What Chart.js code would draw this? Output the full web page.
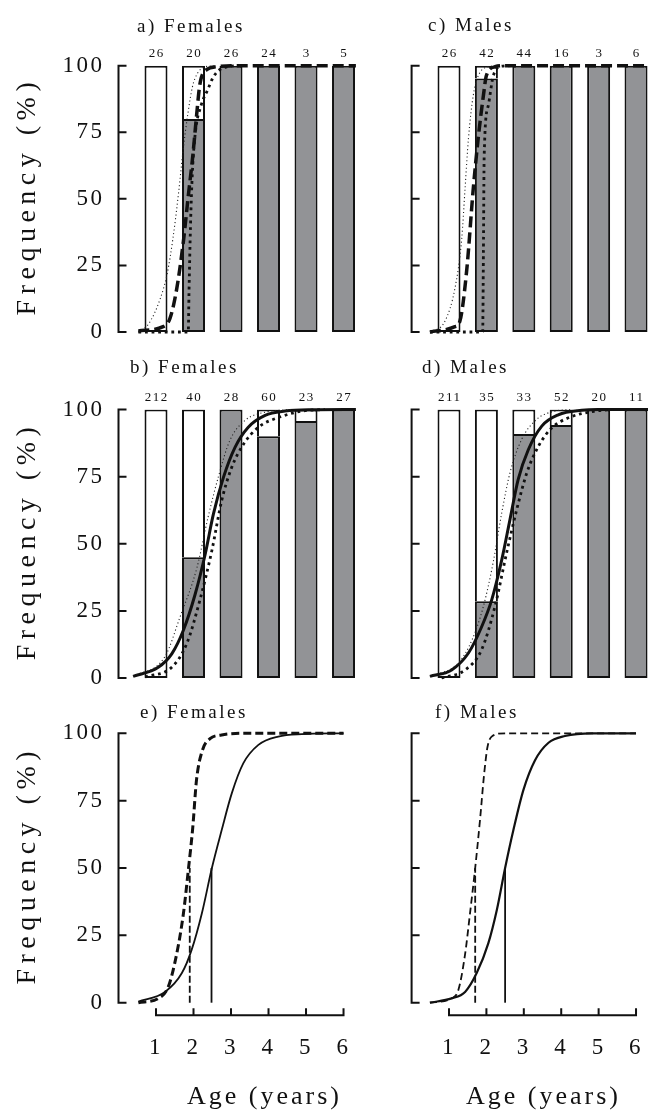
<!DOCTYPE html>
<html>
<head>
<meta charset="utf-8">
<script src="https://cdn.jsdelivr.net/npm/chart.js@4.4.1/dist/chart.umd.min.js"></script>
<style>
  html, body { margin: 0; padding: 0; background: #fff; overflow: hidden; }
  #fig { position: relative; width: 648px; height: 1110px; }
  #fig > div { position: absolute; }
</style>
</head>
<body>
<div id="fig">
  <div style="left:0;top:0;width:370px;height:345px"><canvas id="pa"></canvas></div>
  <div style="left:370px;top:0;width:278px;height:345px"><canvas id="pc"></canvas></div>
  <div style="left:0;top:345px;width:370px;height:345px"><canvas id="pb"></canvas></div>
  <div style="left:370px;top:345px;width:278px;height:345px"><canvas id="pd"></canvas></div>
  <div style="left:0;top:690px;width:370px;height:420px"><canvas id="pe"></canvas></div>
  <div style="left:370px;top:690px;width:278px;height:420px"><canvas id="pf"></canvas></div>
</div>
<script>
// age classes and tick values
const ages = [1, 2, 3, 4, 5, 6];
const yTicks = [0, 25, 50, 75, 100];

// % mature per age class and sample sizes
const matureFemTop = [0, 80, 100, 100, 100, 100];
const nFemTop = [26, 20, 26, 24, 3, 5];
const matureMaleTop = [0, 95.2, 100, 100, 100, 100];
const nMaleTop = [26, 42, 44, 16, 3, 6];
const matureFemMid = [0, 45, 100, 90, 95.7, 100];
const nFemMid = [212, 40, 28, 60, 23, 27];
const matureMaleMid = [0, 28.6, 90.9, 94.2, 100, 100];
const nMaleMid = [211, 35, 33, 52, 20, 11];

// fitted ogives [age, %] with lower / upper bands
const fitFemTop = [[0.53, 0.4], [1.19, 2], [1.37, 5], [1.55, 16], [1.73, 34], [1.86, 51], [1.98, 66], [2.08, 81], [2.17, 93], [2.35, 98.5], [2.62, 99.6], [3.0, 100], [6.33, 100]];
const loFemTop = [[0.53, 0], [0.8, 3], [1.1, 12], [1.3, 22], [1.45, 35], [1.6, 52], [1.72, 68], [1.85, 82], [1.97, 92], [2.1, 97], [2.3, 99.5], [2.6, 100]];
const hiFemTop = [[0.53, 0], [1.86, 0], [1.88, 15], [1.92, 40], [1.97, 60], [2.05, 75], [2.2, 85], [2.38, 91], [2.5, 95], [2.65, 98], [2.9, 99.6], [3.2, 100]];

const fitMaleTop = [[0.49, 0], [1.16, 2], [1.29, 4], [1.47, 22.7], [1.65, 54], [1.78, 72.7], [1.92, 88.8], [2.0, 96.3], [2.23, 99.6], [2.5, 100], [6.32, 100]];
const loMaleTop = [[0.49, 0], [0.89, 4], [1.16, 16.5], [1.34, 35], [1.43, 54], [1.52, 72.7], [1.65, 89], [1.83, 97.5], [2.14, 100]];
const hiMaleTop = [[0.49, 0], [1.9, 0], [1.92, 30], [1.94, 66], [2.05, 85], [2.18, 96], [2.41, 99.8], [2.7, 100]];

const fitFemMid = [[0.39, 0.6], [1.06, 4], [1.42, 9], [1.73, 17.8], [2.04, 31], [2.31, 46], [2.53, 61], [2.8, 74.8], [3.11, 86], [3.46, 93.4], [3.91, 97.8], [4.44, 99.4], [5.15, 99.9], [6.33, 100]];
const loFemMid = [[0.39, 0.6], [1.24, 8], [1.64, 22.7], [2.09, 41], [2.39, 60], [2.66, 74.8], [2.97, 88.5], [3.37, 95.9], [3.91, 99], [4.6, 100]];
const hiFemMid = [[0.71, 0.4], [1.42, 4], [1.82, 12.8], [2.17, 29], [2.49, 47.5], [2.75, 66], [3.02, 78.5], [3.33, 87], [3.73, 93.4], [4.26, 97], [4.89, 99.4], [5.5, 100]];

const fitMaleMid = [[0.49, 0.6], [1.07, 3], [1.52, 9.3], [1.87, 19], [2.14, 29], [2.41, 44], [2.63, 59], [2.85, 74], [3.12, 85], [3.48, 93.8], [3.92, 98], [4.55, 99.7], [4.98, 100], [6.32, 100]];
const loMaleMid = [[0.49, 0.6], [1.25, 5.6], [1.61, 14], [1.92, 26.7], [2.18, 43], [2.41, 61.5], [2.63, 76.4], [2.94, 88.8], [3.34, 96.3], [3.83, 99.4], [4.3, 100]];
const hiMaleMid = [[0.8, 0], [1.43, 3], [1.87, 10.5], [2.23, 26.7], [2.54, 46.6], [2.81, 62.7], [3.08, 76.4], [3.39, 86.3], [3.75, 93.2], [4.19, 96.9], [4.9, 99.4], [5.4, 100]];

// both ogives compared, with age at 50 % maturity
const dashFem = [[0.53, 0], [1.06, 1.6], [1.33, 6], [1.55, 18], [1.73, 33], [1.86, 49], [1.98, 65], [2.08, 82.7], [2.24, 93.8], [2.44, 98], [2.75, 99.4], [3.29, 100], [6, 100]];
const solidFem = [[0.53, 0.4], [1.24, 4], [1.69, 11], [1.95, 19.6], [2.22, 33], [2.49, 50], [2.75, 64], [3.02, 77.7], [3.33, 88.9], [3.73, 95.7], [4.26, 98.8], [4.89, 99.7], [6, 100]];
const dashMale = [[0.49, 0], [1.07, 1.6], [1.25, 4.7], [1.43, 18], [1.56, 33], [1.7, 50], [1.83, 68], [1.94, 85], [2.03, 95], [2.16, 99], [2.5, 100], [6, 100]];
const solidMale = [[0.49, 0], [1.07, 1.6], [1.43, 4], [1.74, 11], [2.05, 22], [2.28, 34.5], [2.5, 50], [2.72, 64], [2.99, 79], [3.3, 90], [3.66, 96.5], [4.1, 99], [4.82, 100], [6, 100]];
const a50Fem = [1.9, 2.48];
const a50Male = [1.7, 2.5];

const SERIF = "'Liberation Serif', 'Times New Roman', serif";
const INK = '#111';
const GRAY = '#929396';

function pts(arr) {
  return arr.map(([x, y]) => ({ x, y }));
}

function curve(data, style) {
  return Object.assign({
    type: 'line',
    data: pts(data),
    borderColor: INK,
    pointRadius: 0,
    fill: false,
    cubicInterpolationMode: 'monotone',
    borderCapStyle: 'butt',
    clip: false
  }, style);
}

function drop(age, style) {
  return curve([[age, 0], [age, 50]], Object.assign({ cubicInterpolationMode: 'default', tension: 0 }, style));
}

function barSets(mature) {
  const common = { type: 'bar', borderColor: INK, borderWidth: 2, barThickness: 23, grouped: false, inflateAmount: 0 };
  return [
    Object.assign({ data: ages.map((a, i) => ({ x: a, y: [0, mature[i]] })), backgroundColor: GRAY, borderSkipped: false }, common),
    Object.assign({
      data: ages.map((a, i) => ({ x: a, y: [mature[i], 100] })),
      backgroundColor: '#fff',
      borderSkipped: c => mature[c.dataIndex] > 0 ? 'bottom' : false
    }, common)
  ];
}

const fitDash = { borderWidth: 3.5, borderDash: [11, 5] };
const fitSolid = { borderWidth: 3 };
const thinDot = { borderWidth: 1.1, borderDash: [1.1, 2.6], borderColor: '#222' };
const thickDot = { borderWidth: 2.8, borderDash: [2.8, 3.8] };

// axis frame, panel titles, sample sizes and axis titles
const framePlugin = {
  id: 'frame',
  beforeDraw(chart) {
    chart.ctx.letterSpacing = '2.5px';
  },
  afterDraw(chart, args, o) {
    const ctx = chart.ctx;
    const x = chart.scales.x, y = chart.scales.y;
    const left = x.getPixelForValue(0);
    const top = y.getPixelForValue(100), bot = y.getPixelForValue(0);
    ctx.save();
    ctx.strokeStyle = INK;
    ctx.lineWidth = 2;
    ctx.setLineDash([]);
    ctx.beginPath();
    ctx.moveTo(left, top - 1);
    ctx.lineTo(left, bot + 1);
    yTicks.forEach(v => {
      const py = y.getPixelForValue(v);
      ctx.moveTo(left - 1, py);
      ctx.lineTo(left + 8, py);
    });
    ctx.stroke();
    if (o.ageAxis) {
      const ay = bot + 12.5;
      ctx.beginPath();
      ctx.moveTo(x.getPixelForValue(1) - 1, ay);
      ctx.lineTo(x.getPixelForValue(6) + 1, ay);
      ages.forEach(a => {
        const px = x.getPixelForValue(a);
        ctx.moveTo(px, ay + 1);
        ctx.lineTo(px, ay - 7);
      });
      ctx.stroke();
    }
    ctx.fillStyle = INK;
    ctx.textBaseline = 'middle';
    ctx.textAlign = 'left';
    ctx.font = '19px ' + SERIF;
    ctx.letterSpacing = '2.5px';
    ctx.fillText(o.title, o.titleX, o.titleY);
    if (o.counts) {
      ctx.font = '13px ' + SERIF;
      ctx.letterSpacing = '1.5px';
      ctx.textAlign = 'center';
      o.counts.forEach((n, i) => ctx.fillText(String(n), x.getPixelForValue(ages[i]) + 0.75, top - 12));
    }
    if (o.yTitle) {
      ctx.save();
      ctx.translate(28, (top + bot) / 2);
      ctx.rotate(-Math.PI / 2);
      ctx.font = '28px ' + SERIF;
      ctx.letterSpacing = '5.5px';
      ctx.textAlign = 'center';
      ctx.fillText('Frequency (%)', 2.75, 0);
      ctx.restore();
    }
    if (o.xTitle) {
      ctx.font = '26px ' + SERIF;
      ctx.letterSpacing = '3px';
      ctx.textAlign = 'center';
      ctx.fillText('Age (years)', o.xTitleX + 1.5, bot + 94);
    }
    ctx.restore();
  }
};

function makePanel(id, type, datasets, p) {
  const isLeft = p.side === 'left';
  const xMax = isLeft ? 6.33 : 6.32;
  const hasAge = !!p.frame.ageAxis;
  const axisW = isLeft ? 118.5 : 41.6;
  const ageH = 60;
  new Chart(document.getElementById(id), {
    type: type,
    data: { datasets: datasets },
    options: {
      responsive: true,
      maintainAspectRatio: false,
      animation: false,
      events: [],
      layout: {
        padding: {
          left: isLeft ? 0 : axisW,
          right: isLeft ? 14.1 : 0,
          top: p.top,
          bottom: hasAge ? p.bottom - ageH : p.bottom
        }
      },
      scales: {
        x: {
          type: 'linear',
          min: 0,
          max: xMax,
          offset: false,
          display: hasAge,
          grid: { display: false, drawTicks: false },
          border: { display: false },
          ticks: {
            stepSize: 1,
            includeBounds: false,
            autoSkip: false,
            maxRotation: 0,
            padding: 31,
            color: INK,
            font: { family: SERIF, size: 23 },
            callback: v => (Number.isInteger(v) && v >= 1) ? String(v) : ''
          },
          afterFit: s => {
            s.height = hasAge ? ageH : 0;
            s.paddingLeft = 0;
            s.paddingRight = 0;
          }
        },
        y: {
          type: 'linear',
          min: 0,
          max: 100,
          display: isLeft,
          grid: { display: false, drawTicks: false },
          border: { display: false },
          ticks: {
            stepSize: 25,
            padding: 14,
            color: INK,
            font: { family: SERIF, size: 23 }
          },
          afterFit: s => {
            s.width = isLeft ? axisW : 0;
            s.paddingTop = 0;
            s.paddingBottom = 0;
          }
        }
      },
      plugins: {
        legend: { display: false },
        tooltip: { enabled: false },
        frame: p.frame
      }
    },
    plugins: [framePlugin]
  });
}

// a) females, first sample
makePanel('pa', 'bar', [
  curve(loFemTop, thinDot),
  curve(hiFemTop, thickDot),
  curve(fitFemTop, fitDash),
  ...barSets(matureFemTop)
], { side: 'left', top: 65.7, bottom: 13, frame: { title: 'a) Females', titleX: 137, titleY: 27, counts: nFemTop, yTitle: true } });

// c) males, first sample
makePanel('pc', 'bar', [
  curve(loMaleTop, thinDot),
  curve(hiMaleTop, thickDot),
  curve(fitMaleTop, fitDash),
  ...barSets(matureMaleTop)
], { side: 'right', top: 65.7, bottom: 13, frame: { title: 'c) Males', titleX: 58, titleY: 26, counts: nMaleTop } });

// b) females, second sample
makePanel('pb', 'bar', [
  curve(loFemMid, thinDot),
  curve(hiFemMid, thickDot),
  curve(fitFemMid, fitSolid),
  ...barSets(matureFemMid)
], { side: 'left', top: 64.5, bottom: 12, frame: { title: 'b) Females', titleX: 130, titleY: 23, counts: nFemMid, yTitle: true } });

// d) males, second sample
makePanel('pd', 'bar', [
  curve(loMaleMid, thinDot),
  curve(hiMaleMid, thickDot),
  curve(fitMaleMid, fitSolid),
  ...barSets(matureMaleMid)
], { side: 'right', top: 64.5, bottom: 12, frame: { title: 'd) Males', titleX: 52, titleY: 23, counts: nMaleMid } });

// e) females, both ogives
makePanel('pe', 'line', [
  curve(dashFem, { borderWidth: 3, borderDash: [8, 4] }),
  curve(solidFem, { borderWidth: 1.8 }),
  drop(a50Fem[0], { borderWidth: 1.8, borderDash: [7, 3] }),
  drop(a50Fem[1], { borderWidth: 1.8 })
], { side: 'left', top: 43.3, bottom: 107.3, frame: { title: 'e) Females', titleX: 140, titleY: 23, yTitle: true, ageAxis: true, xTitle: true, xTitleX: 263 } });

// f) males, both ogives
makePanel('pf', 'line', [
  curve(dashMale, { borderWidth: 1.8, borderDash: [7, 4] }),
  curve(solidMale, { borderWidth: 2.2 }),
  drop(a50Male[0], { borderWidth: 1.8, borderDash: [7, 3] }),
  drop(a50Male[1], { borderWidth: 1.8 })
], { side: 'right', top: 43.3, bottom: 107.3, frame: { title: 'f) Males', titleX: 65, titleY: 23, ageAxis: true, xTitle: true, xTitleX: 172 } });
</script>
</body>
</html>
